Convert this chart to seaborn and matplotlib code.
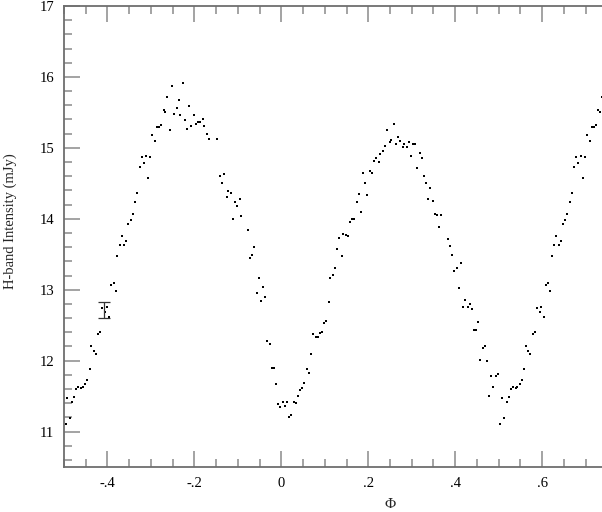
import matplotlib
matplotlib.use("Agg")
import matplotlib.pyplot as plt
import seaborn as sns
import numpy as np
import pandas as pd
from matplotlib.ticker import MultipleLocator, FuncFormatter

# Phase-folded H-band light curve (one cycle)
phase = [-0.496, -0.492, -0.487, -0.481, -0.476, -0.472, -0.467, -0.461, -0.457, -0.452,
         -0.447, -0.441, -0.437, -0.432, -0.427, -0.421, -0.417, -0.412, -0.406, -0.402,
         -0.396, -0.392, -0.386, -0.381, -0.377, -0.372, -0.367, -0.362, -0.357, -0.352,
         -0.347, -0.342, -0.337, -0.332, -0.326, -0.321, -0.317, -0.311, -0.307, -0.301,
         -0.297, -0.291, -0.286, -0.281, -0.277, -0.271, -0.267, -0.262, -0.257, -0.252,
         -0.246, -0.241, -0.236, -0.232, -0.226, -0.222, -0.216, -0.212, -0.207, -0.202,
         -0.196, -0.192, -0.187, -0.181, -0.177, -0.172, -0.167, -0.147, -0.141, -0.137,
         -0.132, -0.126, -0.122, -0.116, -0.112, -0.106, -0.102, -0.096, -0.092, -0.076,
         -0.071, -0.067, -0.062, -0.056, -0.052, -0.047, -0.042, -0.037, -0.032, -0.027,
         -0.022, -0.017, -0.012, -0.007, -0.002, 0.003, 0.008, 0.013, 0.018, 0.023,
         0.028, 0.033, 0.038, 0.043, 0.048, 0.053, 0.058, 0.064, 0.068, 0.073,
         0.079, 0.084, 0.088, 0.093, 0.099, 0.103, 0.109, 0.113, 0.118, 0.123,
         0.129, 0.133, 0.139, 0.143, 0.149, 0.154, 0.158, 0.163, 0.168, 0.173,
         0.178, 0.183, 0.188, 0.193, 0.198, 0.204, 0.208, 0.214, 0.218, 0.224,
         0.228, 0.233, 0.239, 0.243, 0.249, 0.253, 0.259, 0.263, 0.269, 0.273,
         0.279, 0.283, 0.289, 0.293, 0.299, 0.303, 0.308, 0.313, 0.318, 0.323,
         0.328, 0.333, 0.338, 0.343, 0.348, 0.353, 0.358, 0.363, 0.368, 0.383,
         0.388, 0.393, 0.397, 0.403, 0.408, 0.413, 0.419, 0.423, 0.429, 0.433,
         0.438, 0.443, 0.448, 0.453, 0.458, 0.463, 0.468, 0.473, 0.478, 0.483,
         0.488, 0.493, 0.498]
flux = [11.11, 11.47, 11.19, 11.41, 11.49, 11.60, 11.63, 11.61, 11.63, 11.67,
        11.73, 11.88, 12.21, 12.14, 12.10, 12.37, 12.41, 12.74, 12.69, 12.75,
        12.62, 13.07, 13.10, 12.98, 13.47, 13.63, 13.75, 13.63, 13.68, 13.93,
        13.98, 14.07, 14.23, 14.36, 14.73, 14.87, 14.79, 14.88, 14.57, 14.87,
        15.18, 15.10, 15.30, 15.30, 15.32, 15.53, 15.51, 15.72, 15.25, 15.87,
        15.48, 15.56, 15.68, 15.46, 15.91, 15.39, 15.27, 15.59, 15.31, 15.46,
        15.33, 15.37, 15.37, 15.41, 15.31, 15.20, 15.13, 15.12, 14.61, 14.50,
        14.63, 14.31, 14.39, 14.36, 13.99, 14.23, 14.18, 14.28, 14.04, 13.84,
        13.45, 13.49, 13.60, 12.95, 13.16, 12.84, 13.04, 12.89, 12.27, 12.24,
        11.90, 11.89, 11.67, 11.39, 11.35, 11.42, 11.36, 11.42, 11.21, 11.23,
        11.42, 11.40, 11.50, 11.58, 11.62, 11.68, 11.88, 11.82, 12.10, 12.37,
        12.33, 12.34, 12.39, 12.41, 12.53, 12.56, 12.83, 13.17, 13.21, 13.31,
        13.57, 13.73, 13.47, 13.79, 13.77, 13.76, 13.95, 13.99, 14.00, 14.24,
        14.35, 14.10, 14.64, 14.50, 14.34, 14.68, 14.64, 14.82, 14.85, 14.80,
        14.91, 14.95, 15.03, 15.25, 15.08, 15.11, 15.33, 15.06, 15.15, 15.10,
        15.01, 15.05, 15.01, 15.08, 14.88, 15.05, 15.05, 14.71, 14.93, 14.85,
        14.60, 14.50, 14.28, 14.43, 14.25, 14.07, 14.05, 13.89, 14.05, 13.72,
        13.62, 13.49, 13.27, 13.31, 13.02, 13.37, 12.76, 12.85, 12.76, 12.80,
        12.73, 12.43, 12.43, 12.55, 12.01, 12.18, 12.20, 12.00, 11.50, 11.78,
        11.63, 11.78, 11.81]

# typical error bar
err_phase = -0.407
err_flux = 12.71
err_size = 0.11

df = pd.DataFrame({"phase": phase, "flux": flux})
# repeat the first half cycle after phase 0.5
df_rep = df[df["phase"] < 0].copy()
df_rep["phase"] = df_rep["phase"] + 1
df_all = pd.concat([df, df_rep])

sns.set_style("ticks")
plt.rcParams["font.family"] = ["Liberation Serif", "DejaVu Serif"]
plt.rcParams["font.size"] = 10.5

fig = plt.figure(figsize=(6.02, 5.12), dpi=100)
ax = fig.add_axes([64 / 602, 45 / 512, 652 / 602, 461 / 512])

sns.scatterplot(data=df_all, x="phase", y="flux", ax=ax, color="black",
                marker="s", s=3.5, linewidth=0, legend=False)
ax.errorbar(err_phase, err_flux, yerr=err_size, color="#333333", lw=0.9,
            capsize=4, capthick=0.9)

ax.set_xlim(-0.5, 1.0)
ax.set_ylim(10.5, 17)

ax.xaxis.set_major_locator(MultipleLocator(0.2))
ax.xaxis.set_minor_locator(MultipleLocator(0.05))
ax.yaxis.set_major_locator(MultipleLocator(1))
ax.yaxis.set_minor_locator(MultipleLocator(0.2))


def phase_fmt(v, pos):
    # labels past the visible edge are left blank
    if v > 0.75:
        return ""
    if abs(v) < 1e-9:
        return "0"
    s = "%.1f" % v
    return s.replace("0.", ".")


ax.xaxis.set_major_formatter(FuncFormatter(phase_fmt))

ax.tick_params(which="both", direction="in", top=True, right=True,
               color="#8a8a8a", width=1.1, labelsize=10.5, labelcolor="black")
ax.tick_params(which="major", length=11.5, pad=7)
ax.tick_params(which="minor", length=5.8)
for sp in ax.spines.values():
    sp.set_color("#6e6e6e")
    sp.set_linewidth(1.3)

ax.set_xlabel("Φ", fontsize=11, labelpad=6)
ax.set_ylabel("H-band Intensity (mJy)", fontsize=10.5)
ax.yaxis.set_label_coords(-0.072, 0.534)

fig.savefig("out.png", dpi=100)
